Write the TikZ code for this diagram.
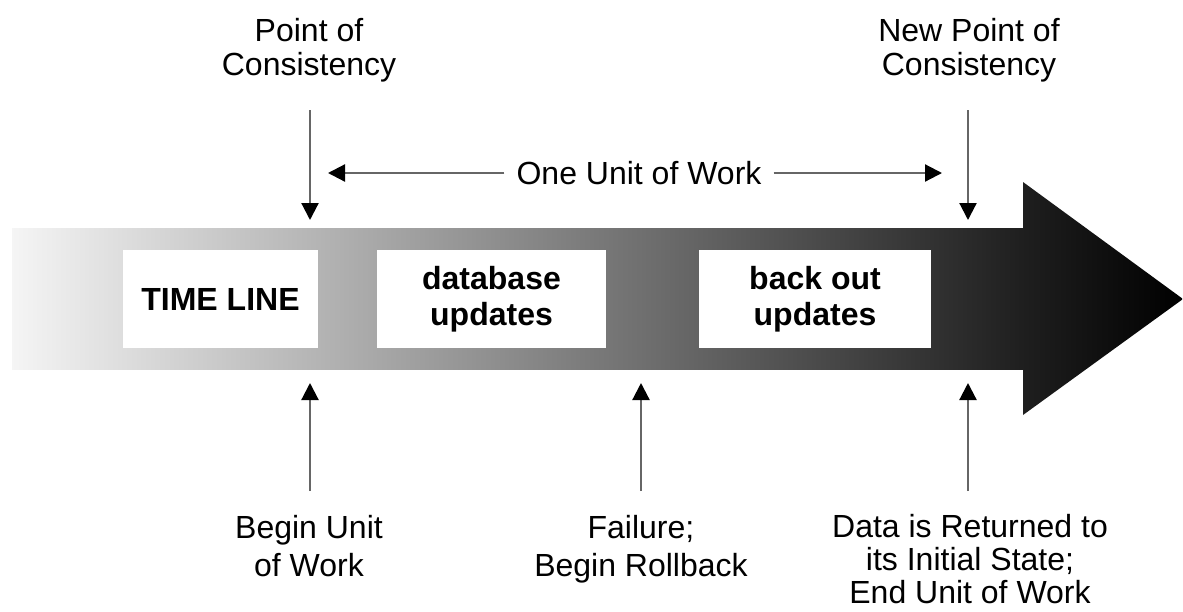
\documentclass[tikz,border=0pt]{standalone}
\usepackage{fontspec}
\setmainfont{Liberation Sans}
\usetikzlibrary{arrows.meta}
\tikzset{
  lbl/.style={align=center, inner sep=0pt, anchor=north},
  stagebox/.style={fill=white, draw=none, align=center, inner sep=0pt,
    font=\bfseries\fontsize{32}{36}\selectfont},
  pointer/.style={draw=black!60, line width=2.2pt,
    -{Triangle[width=17pt,length=17pt,fill=black,color=black]}},
}
\begin{document}
\begin{tikzpicture}[x=1pt,y=-1pt]
\useasboundingbox (0,0) rectangle (1183,611);
% big arrow
\shade[left color=black!4, right color=black!88] (12,228) rectangle (1023,369);
\shade[left color=black!88, right color=black] (1023,182) -- (1183,299) -- (1023,415) -- cycle;
% stage boxes
\node[stagebox, minimum width=195pt, minimum height=98pt] (tl) at (220.5,299) {TIME LINE};
\node[stagebox, minimum width=229pt, minimum height=98pt] (db) at (491.5,299) {database\\updates};
\node[stagebox, minimum width=232pt, minimum height=98pt] (bo) at (815,299) {back out\\updates};
% top labels
\node[lbl, font=\fontsize{32}{34}\selectfont] (poc) at (309,18) {Point of\\Consistency};
\node[lbl, font=\fontsize{32}{34}\selectfont] (npoc) at (969,18) {New Point of\\Consistency};
\node[lbl, anchor=center, inner xsep=12pt, font=\fontsize{32}{34}\selectfont] (uow) at (639,173) {One Unit of Work};
% bottom labels
\node[lbl, font=\fontsize{32}{38}\selectfont] (buw) at (309,515) {Begin Unit\\of Work};
\node[lbl, font=\fontsize{32}{38}\selectfont] (fail) at (641,515) {Failure;\\Begin Rollback};
\node[lbl, font=\fontsize{32}{33}\selectfont] (data) at (970,514) {Data is Returned to\\its Initial State;\\End Unit of Work};
% connector end points
\coordinate (p1s) at (310,110); \coordinate (p1e) at (310,220);
\coordinate (p2s) at (968,110); \coordinate (p2e) at (968,220);
\coordinate (ul) at (328,173); \coordinate (ur) at (942,173);
\coordinate (b1s) at (310,491); \coordinate (b1e) at (310,383);
\coordinate (b2s) at (641,491); \coordinate (b2e) at (641,383);
\coordinate (b3s) at (968,491); \coordinate (b3e) at (968,383);
% connectors
\draw[pointer] (p1s) -- (p1e);
\draw[pointer] (p2s) -- (p2e);
\draw[pointer] (uow.west) -- (ul);
\draw[pointer] (uow.east) -- (ur);
\draw[pointer] (b1s) -- (b1e);
\draw[pointer] (b2s) -- (b2e);
\draw[pointer] (b3s) -- (b3e);
\end{tikzpicture}
\end{document}
